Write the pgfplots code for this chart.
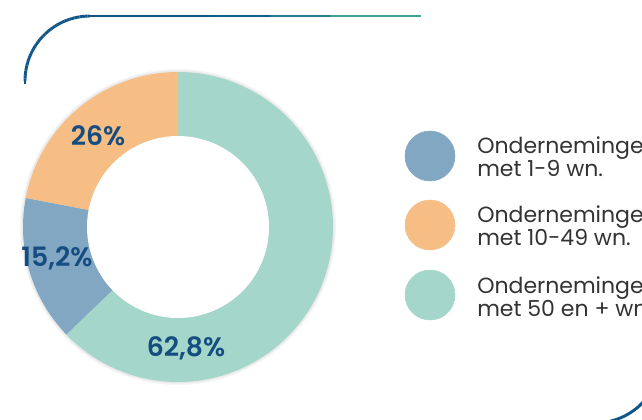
\documentclass[border=0pt]{standalone}
\usepackage{pgfplots}
\usepackage{pgfplotstable}
\pgfplotsset{compat=1.18}
\usepackage{fontspec}
\setmainfont{Poppins}[BoldFont={* SemiBold}]
\definecolor{cblue}{HTML}{82A7C3}
\definecolor{corange}{HTML}{F6BE84}
\definecolor{cteal}{HTML}{A4D6C9}
\definecolor{lab}{HTML}{164D80}
\definecolor{legtxt}{HTML}{333333}
\definecolor{deco}{HTML}{0F5587}
\pgfplotstableread{
value
62.8
15.2
22.0
}\piedata
\pgfplotstablegetelem{0}{value}\of\piedata \let\vA\pgfplotsretval
\pgfplotstablegetelem{1}{value}\of\piedata \let\vB\pgfplotsretval
\pgfplotstablegetelem{2}{value}\of\piedata \let\vC\pgfplotsretval
\pgfmathsetmacro{\aA}{90-3.6*\vA}
\pgfmathsetmacro{\aB}{\aA-3.6*\vB}
\pgfmathsetmacro{\aC}{\aB-3.6*\vC}
\begin{document}
\begin{tikzpicture}
\begin{axis}[hide axis, scale only axis, width=481.5pt, height=315pt,
  xmin=0, xmax=642, ymin=0, ymax=420, y dir=reverse, clip=true,
  colormap={deco}{rgb255=(15,85,135) rgb255=(15,85,135) rgb255=(77,185,152)},
  point meta min=25, point meta max=421]
% decorations
\addplot[mesh, point meta=x, line width=2.2pt, domain=90:180, samples=40]
  ({90+65*cos(x)},{81-65*sin(x)});
\addplot[mesh, point meta=x, line width=2.2pt] coordinates {(25,81) (25,84)};
\addplot[mesh, point meta=x, line width=2.2pt] coordinates {(90,16) (150,16) (210,16) (270,16) (330,16) (421,16)};
\addplot[draw=deco, line width=2.2pt, domain=-95:5, samples=40]
  ({595+66*cos(x)},{357-66*sin(x)});
% shadow
\addplot[fill=black, fill opacity=0.04, draw=none, domain=0:360, samples=120]
  ({178+158*cos(x)},{227-158*sin(x)}) -- cycle;
\addplot[fill=black, fill opacity=0.05, draw=none, domain=0:360, samples=120]
  ({178+156.5*cos(x)},{227-156.5*sin(x)}) -- cycle;
% slices
\addplot[fill=cteal, draw=none, domain=\aA:90, samples=120]
  ({178+155*cos(x)},{227-155*sin(x)}) -- (axis cs:178,227) -- cycle;
\addplot[fill=cblue, draw=none, domain=\aB:\aA, samples=40]
  ({178+155*cos(x)},{227-155*sin(x)}) -- (axis cs:178,227) -- cycle;
\addplot[fill=corange, draw=none, domain=\aC:\aB, samples=50]
  ({178+155*cos(x)},{227-155*sin(x)}) -- (axis cs:178,227) -- cycle;
\addplot[fill=white, draw=none, domain=0:360, samples=120]
  ({178+91*cos(x)},{227-91*sin(x)}) -- cycle;
% legend markers
\addplot[color=cblue, only marks, mark=*, mark size=18.75pt] coordinates {(430,156)};
\addplot[color=corange, only marks, mark=*, mark size=18.75pt] coordinates {(430,225)};
\addplot[color=cteal, only marks, mark=*, mark size=18.75pt] coordinates {(430,295)};
% labels
\node[font=\fontsize{20}{24}\selectfont\bfseries, text=lab, inner sep=0] at (axis cs:98,136) {26\%};
\node[font=\fontsize{20}{24}\selectfont\bfseries, text=lab, inner sep=0] at (axis cs:57,258) {15,2\%};
\node[font=\fontsize{20}{24}\selectfont\bfseries, text=lab, inner sep=0] at (axis cs:186,348) {62,8\%};
% legend text
\begin{scope}[every node/.style={font=\fontsize{16.5}{19}\selectfont, text=legtxt, inner sep=0, anchor=base west}]
\node at (axis cs:477,154) {Ondernemingen};
\node at (axis cs:477,177) {met 1-9 wn.};
\node at (axis cs:477,223) {Ondernemingen};
\node at (axis cs:477,246) {met 10-49 wn.};
\node at (axis cs:477,293) {Ondernemingen};
\node at (axis cs:477,316) {met 50 en + wn.};
\end{scope}
\end{axis}
\pgfresetboundingbox
\useasboundingbox (current axis.south west) rectangle (current axis.north east);
\end{tikzpicture}
\end{document}
